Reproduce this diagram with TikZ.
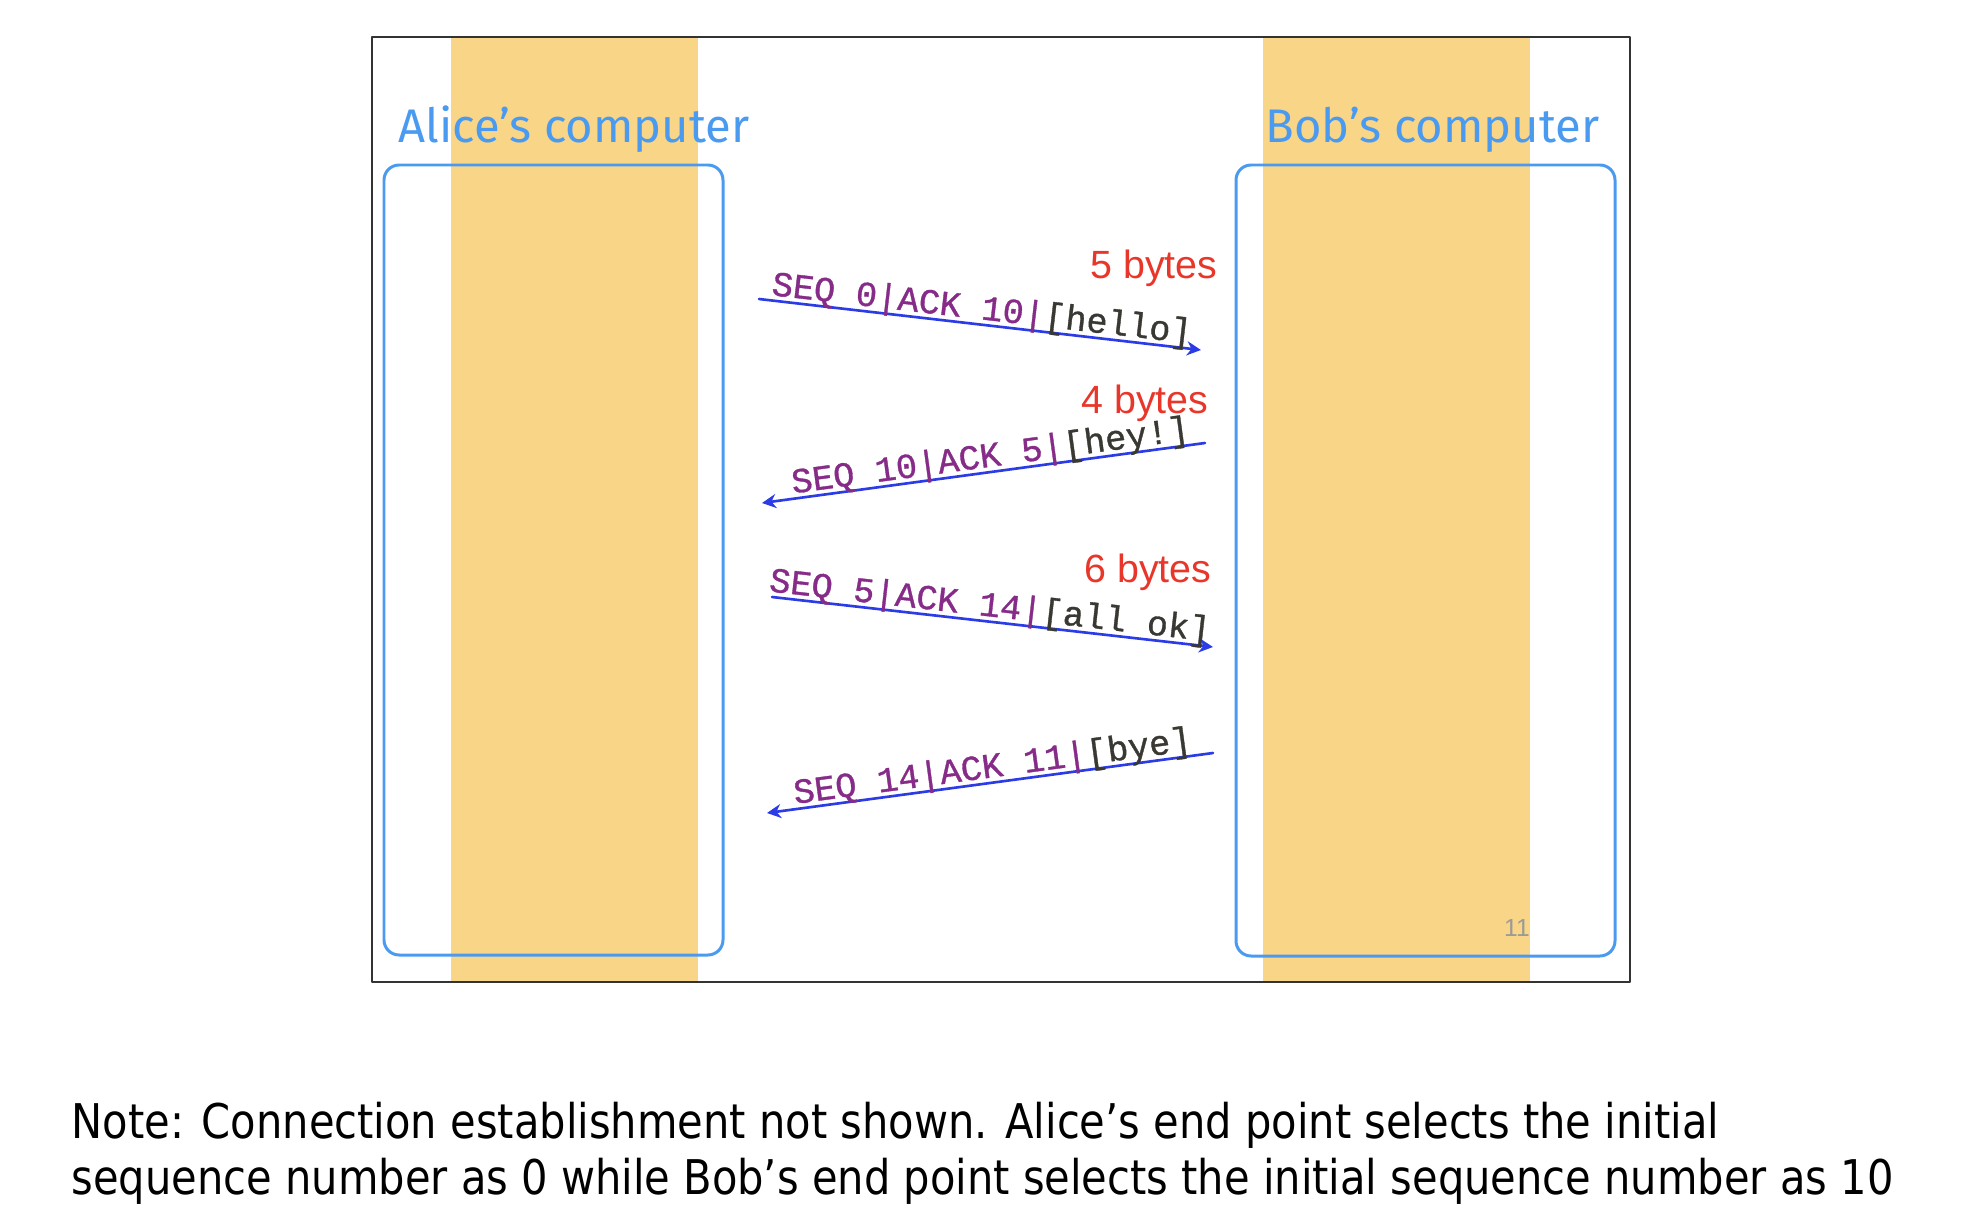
\documentclass[tikz,border=0pt]{standalone}
\usepackage{fontspec}
\usepackage{xcolor}
\usepackage{tikz}
\usetikzlibrary{arrows.meta}
\setmainfont{Liberation Sans}
\newfontfamily\notefont[FakeStretch=0.87]{DejaVu Sans}
\newfontfamily\titlefont{Fira Sans}
\newfontfamily\seqfont[FakeBold=1]{Liberation Mono}
\definecolor{band}{HTML}{F8D587}
\definecolor{hostblue}{HTML}{4A9BF0}
\definecolor{bytered}{HTML}{E8372A}
\definecolor{msgblue}{HTML}{2B3BE6}
\definecolor{seqpurple}{HTML}{862C88}
\definecolor{payload}{HTML}{3A3833}
\definecolor{pagegray}{HTML}{9A9A9A}
\tikzset{
  HostBand/.style={fill=band, draw=none},
  HostBox/.style={draw=hostblue, line width=0.85pt, rounded corners=4.3pt},
  HostTitle/.style={
    anchor=base west, inner sep=0pt, text=hostblue,
    font=\titlefont\fontsize{13.4}{16}\selectfont
  },
  ByteCount/.style={
    anchor=base east, inner sep=0pt, text=bytered,
    font=\fontsize{11.2}{13}\selectfont
  },
  MsgArrow/.style={draw=msgblue, line width=0.75pt, -{Stealth[length=4pt,width=4pt]}},
  SeqLabel/.style={
    sloped, anchor=base, inner sep=0pt,
    font=\seqfont\fontsize{10}{12}\selectfont
  }
}
\newcommand{\SeqText}[2]{%
  % #1 = header part (purple), #2 = payload (dark)
  \raisebox{1.5pt}{\textcolor{seqpurple}{#1}\textcolor{payload}{#2}}%
}

\begin{document}
\begin{tikzpicture}[x=0.01cm, y=-0.01cm, line cap=round, line join=round]
  \useasboundingbox (0,0) rectangle (1978,1224);
  % host bands
  \fill[HostBand] (451,37) rectangle (698,982);
  \fill[HostBand] (1263,37) rectangle (1530,982);
  % slide frame
  \draw[line width=0.6pt, draw=black!80] (372,37) rectangle (1630,982);
  % host boxes
  \draw[HostBox] (384,165) rectangle (723,955);
  \draw[HostBox] (1236,165) rectangle (1615,956);

  \node[HostTitle] (alice) at (398,142) {Alice’s computer};
  \node[HostTitle] (bob) at (1265,142) {Bob’s computer};

  % message end points
  \coordinate (m1s) at (759,299);
  \coordinate (m1e) at (1201,350);
  \coordinate (m2s) at (1205,443);
  \coordinate (m2e) at (762,503);
  \coordinate (m3s) at (772,597);
  \coordinate (m3e) at (1213,647);
  \coordinate (m4s) at (1213,753);
  \coordinate (m4e) at (767,813);

  \draw[MsgArrow] (m1s) -- node[SeqLabel, pos=0.5] (l1) {\SeqText{SEQ 0|ACK 10|}{[hello]}} (m1e);
  \draw[MsgArrow] (m2s) -- node[SeqLabel, pos=0.48] (l2) {\SeqText{SEQ 10|ACK 5|}{[hey!]}} (m2e);
  \draw[MsgArrow] (m3s) -- node[SeqLabel, pos=0.49] (l3) {\SeqText{SEQ 5|ACK 14|}{[all ok]}} (m3e);
  \draw[MsgArrow] (m4s) -- node[SeqLabel, pos=0.49] (l4) {\SeqText{SEQ 14|ACK 11|}{[bye]}} (m4e);

  \node[ByteCount] (b1) at (1218,278) {5 bytes};
  \node[ByteCount] (b2) at (1209,413) {4 bytes};
  \node[ByteCount] (b3) at (1212,582) {6 bytes};

  \node[anchor=center, inner sep=0pt, text=pagegray, font=\rmfamily\fontsize{7}{8}\selectfont] (page) at (1517,928) {11};

  % note below the slide
  \node[anchor=base west, inner sep=0pt, align=left, font=\notefont\fontsize{13.6}{15.65}\selectfont] (note) at (71,1194)
    {Note: Connection establishment not shown. Alice’s end point selects the initial\\
     sequence number as 0 while Bob’s end point selects the initial sequence number as 10};
\end{tikzpicture}
\end{document}
